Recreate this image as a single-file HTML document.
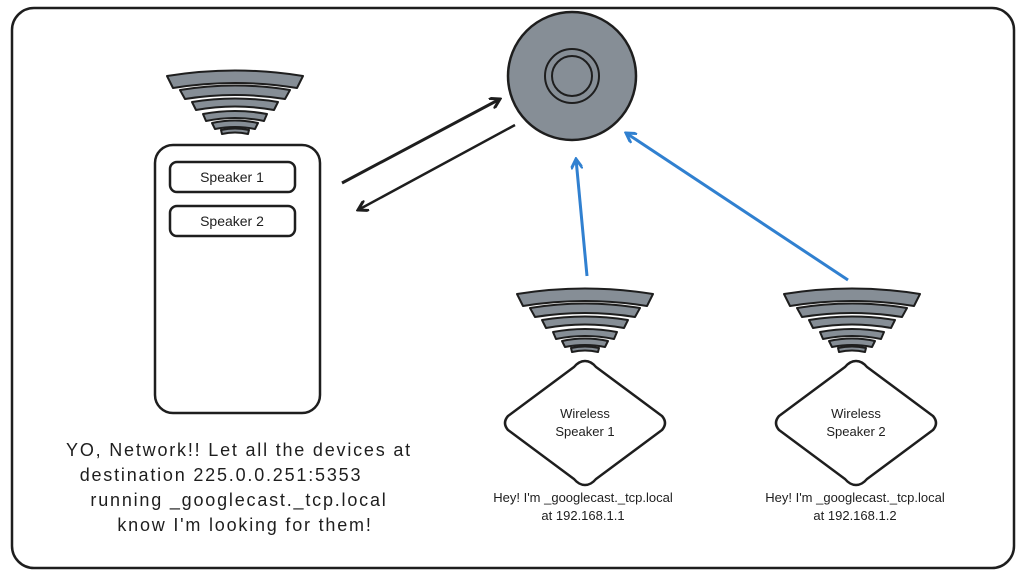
<!DOCTYPE html>
<html><head><meta charset="utf-8"><style>
html,body{margin:0;padding:0;background:#fff;}
svg{display:block;}
text{font-family:"Liberation Sans",sans-serif;fill:#1e1e1e;}
</style></head><body>
<svg width="1024" height="574" viewBox="0 0 1024 574" xmlns="http://www.w3.org/2000/svg">
<defs>
<g id="wifi">
<path d="M-68,2 Q0,-9 68,2 L62,14 Q0,4 -62,14 Z"/>
<path d="M-55,16 Q0,7 55,16 L50,25 Q0,17 -50,25 Z"/>
<path d="M-43,28 Q0,21 43,28 L39,36 Q0,29 -39,36 Z"/>
<path d="M-32,40 Q0,34 32,40 L29,47 Q0,41 -29,47 Z"/>
<path d="M-23,49 Q0,44 23,49 L20,55 Q0,51 -20,55 Z"/>
<path d="M-14,56 Q0,53 14,56 L13,60 Q0,57 -13,60 Z"/>
</g>
<marker id="ad" markerWidth="12" markerHeight="12" refX="10" refY="6" orient="auto" markerUnits="userSpaceOnUse"><path d="M0,0 L10,6 L0,12" fill="none" stroke="#1e1e1e" stroke-width="3"/></marker>
<marker id="ab" markerWidth="12" markerHeight="12" refX="10" refY="6" orient="auto" markerUnits="userSpaceOnUse"><path d="M0,0 L10,6 L0,12" fill="none" stroke="#3080d0" stroke-width="3"/></marker>
</defs>
<rect x="12" y="8" width="1002" height="560" rx="22" fill="#fff" stroke="#1e1e1e" stroke-width="2.5"/>
<g fill="#868e96" stroke="#1e1e1e" stroke-width="2" stroke-linejoin="round">
<use href="#wifi" transform="translate(235,74)"/>
<use href="#wifi" transform="translate(585,292)"/>
<use href="#wifi" transform="translate(852,292)"/>
</g>
<rect x="155" y="145" width="165" height="268" rx="18" fill="#fff" stroke="#1e1e1e" stroke-width="2.5"/>
<rect x="170" y="162" width="125" height="30" rx="7" fill="#fff" stroke="#1e1e1e" stroke-width="2.5"/>
<rect x="170" y="206" width="125" height="30" rx="7" fill="#fff" stroke="#1e1e1e" stroke-width="2.5"/>
<text x="232" y="182" font-size="14" text-anchor="middle">Speaker 1</text>
<text x="232" y="226" font-size="14" text-anchor="middle">Speaker 2</text>
<circle cx="572" cy="76" r="64" fill="#868e96" stroke="#1e1e1e" stroke-width="2.5"/>
<circle cx="572" cy="76" r="27" fill="#868e96" stroke="#1e1e1e" stroke-width="2"/>
<circle cx="572" cy="76" r="20" fill="#868e96" stroke="#1e1e1e" stroke-width="2"/>
<path d="M585,361 Q591,361 596,367 L662,416 Q668,423 662,430 L596,479 Q591,485 585,485 Q579,485 574,479 L508,430 Q502,423 508,416 L574,367 Q579,361 585,361 Z" fill="#fff" stroke="#1e1e1e" stroke-width="2.5"/>
<path d="M856,361 Q862,361 867,367 L933,416 Q939,423 933,430 L867,479 Q862,485 856,485 Q850,485 845,479 L779,430 Q773,423 779,416 L845,367 Q850,361 856,361 Z" fill="#fff" stroke="#1e1e1e" stroke-width="2.5"/>
<text x="585" y="418" font-size="13" text-anchor="middle">Wireless</text>
<text x="585" y="436" font-size="13" text-anchor="middle">Speaker 1</text>
<text x="856" y="418" font-size="13" text-anchor="middle">Wireless</text>
<text x="856" y="436" font-size="13" text-anchor="middle">Speaker 2</text>
<text x="583" y="502" font-size="13" text-anchor="middle">Hey! I'm _googlecast._tcp.local</text>
<text x="583" y="520" font-size="13" text-anchor="middle">at 192.168.1.1</text>
<text x="855" y="502" font-size="13" text-anchor="middle">Hey! I'm _googlecast._tcp.local</text>
<text x="855" y="520" font-size="13" text-anchor="middle">at 192.168.1.2</text>
<g font-size="18" text-anchor="middle" letter-spacing="1.8">
<text x="239" y="456">YO, Network!! Let all the devices at</text>
<text x="221" y="481">destination 225.0.0.251:5353</text>
<text x="239" y="506">running _googlecast._tcp.local</text>
<text x="245" y="531">know I'm looking for them!</text>
</g>
<line x1="342" y1="183" x2="500" y2="99" stroke="#1e1e1e" stroke-width="3" marker-end="url(#ad)"/>
<line x1="515" y1="125" x2="358" y2="210" stroke="#1e1e1e" stroke-width="2.5" marker-end="url(#ad)"/>
<line x1="587" y1="276" x2="576" y2="159" stroke="#3080d0" stroke-width="3" marker-end="url(#ab)"/>
<line x1="848" y1="280" x2="626" y2="133" stroke="#3080d0" stroke-width="3" marker-end="url(#ab)"/>
</svg>
</body></html>
